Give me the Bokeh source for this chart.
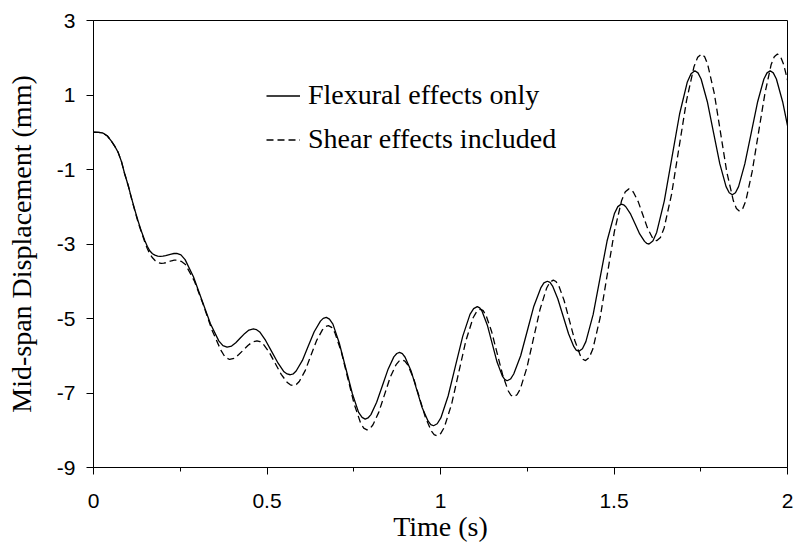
from bokeh.plotting import figure
from bokeh.models import Range1d, FixedTicker, Legend, LegendItem
from bokeh.embed import file_html
from bokeh.resources import INLINE

# ---- data ----
t_flex = [0.000, 0.015, 0.027, 0.040, 0.051, 0.061, 0.071, 0.081, 0.090, 0.100, 0.109, 0.118, 0.128, 0.138, 0.148, 0.155, 0.162, 0.170, 0.177, 0.185, 0.192,
          0.200, 0.208, 0.216, 0.224, 0.232, 0.240,
          0.252, 0.264, 0.288, 0.3125, 0.337, 0.361, 0.373, 0.385,
          0.398, 0.410, 0.423, 0.436, 0.448, 0.461,
          0.470, 0.479, 0.496, 0.514, 0.532, 0.549, 0.558, 0.567,
          0.576, 0.584, 0.602, 0.619, 0.636, 0.654, 0.662, 0.671,
          0.680, 0.690, 0.708, 0.727, 0.746, 0.764, 0.774, 0.783,
          0.791, 0.7995, 0.816, 0.8325, 0.849, 0.8655, 0.874, 0.882,
          0.890, 0.898, 0.915, 0.931, 0.947, 0.964, 0.972, 0.980,
          0.9905, 1.001, 1.022, 1.043, 1.064, 1.085, 1.0955, 1.106,
          1.113, 1.120, 1.135, 1.149, 1.163, 1.178, 1.185, 1.192,
          1.2017, 1.211, 1.231, 1.250, 1.269, 1.289, 1.298, 1.308,
          1.3156, 1.323, 1.338, 1.3535, 1.369, 1.384, 1.391, 1.399,
          1.409, 1.419, 1.440, 1.460, 1.480, 1.501, 1.511, 1.521,
          1.5277, 1.534, 1.548, 1.561, 1.574, 1.588, 1.594, 1.601,
          1.612, 1.623, 1.645, 1.667, 1.689, 1.711, 1.722, 1.733,
          1.742, 1.751, 1.769, 1.787, 1.805, 1.823, 1.832, 1.841,
          1.850, 1.859, 1.877, 1.8955, 1.914, 1.932, 1.941, 1.950,
          1.959, 1.968, 1.986, 2.000]

y_flex = [0.00, -0.005, -0.02, -0.10, -0.23, -0.37, -0.54, -0.80, -1.12, -1.43, -1.75, -2.05, -2.37, -2.66, -2.91, -3.06, -3.18, -3.26, -3.30, -3.325, -3.33,
          -3.325, -3.31, -3.29, -3.27, -3.255, -3.25,
          -3.293, -3.42, -3.88, -4.51, -5.14, -5.60, -5.727, -5.77,
          -5.74, -5.65, -5.525, -5.40, -5.31, -5.28,
          -5.301, -5.36, -5.59, -5.895, -6.20, -6.43, -6.489, -6.51,
          -6.484, -6.41, -6.125, -5.74, -5.355, -5.07, -4.996, -4.97,
          -5.016, -5.15, -5.65, -6.335, -7.02, -7.52, -7.654, -7.70,
          -7.67, -7.58, -7.25, -6.805, -6.36, -6.03, -5.94, -5.91,
          -5.943, -6.04, -6.40, -6.895, -7.39, -7.75, -7.847, -7.88,
          -7.826, -7.67, -7.08, -6.28, -5.48, -4.89, -4.734, -4.68,
          -4.714, -4.81, -5.18, -5.675, -6.17, -6.54, -6.636, -6.67,
          -6.625, -6.49, -6.00, -5.335, -4.67, -4.18, -4.045, -4.00,
          -4.032, -4.13, -4.47, -4.94, -5.41, -5.75, -5.848, -5.88,
          -5.813, -5.62, -4.89, -3.905, -2.92, -2.19, -1.997, -1.93,
          -1.948, -2.00, -2.20, -2.465, -2.73, -2.93, -2.982, -3.00,
          -2.921, -2.69, -1.84, -0.675, 0.49, 1.34, 1.571, 1.65,
          1.593, 1.43, 0.82, -0.015, -0.85, -1.46, -1.623, -1.68,
          -1.623, -1.46, -0.85, -0.015, 0.82, 1.43, 1.593, 1.65,
          1.593, 1.43, 0.82, 0.18]

t_shear = [0.000, 0.015, 0.027, 0.040, 0.051, 0.061, 0.071, 0.081, 0.090, 0.100, 0.109, 0.118, 0.128, 0.138, 0.148, 0.155, 0.162, 0.170, 0.178, 0.186, 0.195,
           0.2025, 0.210, 0.2175, 0.225, 0.2325, 0.240,
           0.2527, 0.265, 0.291, 0.316, 0.341, 0.367, 0.3793, 0.392,
           0.405, 0.418, 0.4315, 0.445, 0.458, 0.471,
           0.4798, 0.4885, 0.506, 0.5235, 0.541, 0.5585, 0.5673, 0.576,
           0.5844, 0.593, 0.610, 0.6265, 0.643, 0.660, 0.6686, 0.677,
           0.6863, 0.6955, 0.714, 0.7325, 0.751, 0.7695, 0.7787, 0.788,
           0.7964, 0.805, 0.822, 0.8385, 0.855, 0.872, 0.8806, 0.889,
           0.8974, 0.906, 0.923, 0.9395, 0.956, 0.973, 0.9816, 0.990,
           1.0004, 1.011, 1.032, 1.0525, 1.073, 1.094, 1.1046, 1.115,
           1.123, 1.131, 1.147, 1.163, 1.179, 1.195, 1.203, 1.211,
           1.2205, 1.230, 1.249, 1.268, 1.287, 1.306, 1.3155, 1.325,
           1.3328, 1.3405, 1.356, 1.3715, 1.387, 1.4025, 1.4102, 1.418,
           1.4284, 1.439, 1.460, 1.4805, 1.501, 1.522, 1.5326, 1.543,
           1.5497, 1.556, 1.570, 1.583, 1.596, 1.610, 1.6163, 1.623,
           1.6338, 1.6445, 1.666, 1.6875, 1.709, 1.7305, 1.7412, 1.752,
           1.7612, 1.770, 1.789, 1.807, 1.825, 1.844, 1.8528, 1.862,
           1.8711, 1.880, 1.898, 1.9165, 1.935, 1.953, 1.9619, 1.971,
           1.9802, 1.989, 2.000]

y_shear = [0.00, -0.005, -0.02, -0.10, -0.23, -0.37, -0.54, -0.80, -1.12, -1.43, -1.76, -2.07, -2.40, -2.68, -2.95, -3.12, -3.26, -3.37, -3.45, -3.50, -3.52,
           -3.515, -3.50, -3.475, -3.45, -3.435, -3.43,
           -3.465, -3.55, -4.00, -4.62, -5.30, -5.85, -6.04, -6.10,
           -6.07, -5.975, -5.85, -5.725, -5.63, -5.60,
           -5.62, -5.68, -5.90, -6.20, -6.50, -6.72, -6.78, -6.80,
           -6.773, -6.69, -6.40, -5.995, -5.59, -5.30, -5.217, -5.19,
           -5.238, -5.38, -5.89, -6.59, -7.29, -7.80, -7.942, -7.99,
           -7.958, -7.86, -7.52, -7.05, -6.58, -6.24, -6.142, -6.11,
           -6.145, -6.25, -6.62, -7.13, -7.64, -8.01, -8.115, -8.15,
           -8.092, -7.92, -7.30, -6.45, -5.60, -4.98, -4.808, -4.75,
           -4.79, -4.91, -5.34, -5.925, -6.51, -6.94, -7.06, -7.10,
           -7.047, -6.89, -6.32, -5.535, -4.75, -4.18, -4.023, -3.97,
           -4.007, -4.11, -4.51, -5.05, -5.59, -5.985, -6.093, -6.13,
           -6.052, -5.82, -4.98, -3.825, -2.67, -1.83, -1.598, -1.52,
           -1.544, -1.61, -1.87, -2.215, -2.56, -2.82, -2.886, -2.91,
           -2.825, -2.57, -1.66, -0.405, 0.85, 1.76, 2.015, 2.10,
           2.028, 1.82, 1.045, -0.01, -1.065, -1.84, -2.048, -2.12,
           -2.048, -1.84, -1.065, -0.01, 1.045, 1.82, 2.028, 2.10,
           2.028, 1.82, 1.40]

x_ticks = [0, 0.5, 1, 1.5, 2]
x_tick_labels = ["0", "0.5", "1", "1.5", "2"]
x_minor_ticks = [0.25, 0.75, 1.25, 1.75]
y_ticks = [-9, -7, -5, -3, -1, 1, 3]
y_tick_labels = ["-9", "-7", "-5", "-3", "-1", "1", "3"]
series_labels = ["Flexural effects only", "Shear effects included"]

assert len(t_flex) == len(y_flex)
assert len(t_shear) == len(y_shear)

p = figure(width=796, height=546, output_backend="svg", toolbar_location=None,
           x_range=Range1d(0, 2), y_range=Range1d(-9, 3),
           min_border_left=93, min_border_right=9, min_border_top=20, min_border_bottom=79)

p.background_fill_color = "white"
p.border_fill_color = "white"
p.outline_line_color = "black"
p.outline_line_width = 1
p.outline_line_alpha = 1
p.xgrid.visible = False
p.ygrid.visible = False

r1 = p.line(t_flex, y_flex, line_color="black", line_width=1.3)
r2 = p.line(t_shear, y_shear, line_color="black", line_width=1.3, line_dash="7 4")

# axes
xa = p.xaxis[0]
xa.ticker = FixedTicker(ticks=x_ticks, minor_ticks=x_minor_ticks)
xa.major_label_overrides = {t: l for t, l in zip(x_ticks, x_tick_labels)}
xa.axis_label = "Time (s)"
xa.major_tick_out = 7
xa.major_tick_in = 0
xa.minor_tick_out = 4
xa.minor_tick_in = 0
xa.major_label_standoff = 19
xa.axis_label_standoff = 0

ya = p.yaxis[0]
ya.ticker = FixedTicker(ticks=y_ticks, minor_ticks=[])
ya.major_label_overrides = {t: l for t, l in zip(y_ticks, y_tick_labels)}
ya.axis_label = "Mid-span Displacement (mm)"
ya.major_tick_out = 7
ya.major_tick_in = 0
ya.minor_tick_out = 0
ya.minor_tick_in = 0
ya.major_label_standoff = 11
ya.axis_label_standoff = 17

for ax in (xa, ya):
    ax.axis_line_color = "black"
    ax.axis_line_width = 1
    ax.major_tick_line_color = "black"
    ax.minor_tick_line_color = "black"
    ax.major_label_text_font = "Liberation Sans"
    ax.major_label_text_font_size = "21px"
    ax.major_label_text_color = "black"
    ax.axis_label_text_font = "Liberation Serif"
    ax.axis_label_text_font_size = "28px"
    ax.axis_label_text_font_style = "normal"
    ax.axis_label_text_color = "black"

legend = Legend(items=[LegendItem(label=series_labels[0], renderers=[r1]),
                       LegendItem(label=series_labels[1], renderers=[r2])],
                location=(173, 312))
legend.border_line_color = None
legend.background_fill_alpha = 0
legend.padding = 0
legend.margin = 0
legend.spacing = 12
legend.glyph_width = 34
legend.glyph_height = 31
legend.label_height = 31
legend.label_standoff = 8
legend.label_text_font = "Liberation Serif"
legend.label_text_font_size = "28px"
legend.label_text_color = "black"
p.add_layout(legend, "center")

open("out.html", "w").write(file_html(p, INLINE))
